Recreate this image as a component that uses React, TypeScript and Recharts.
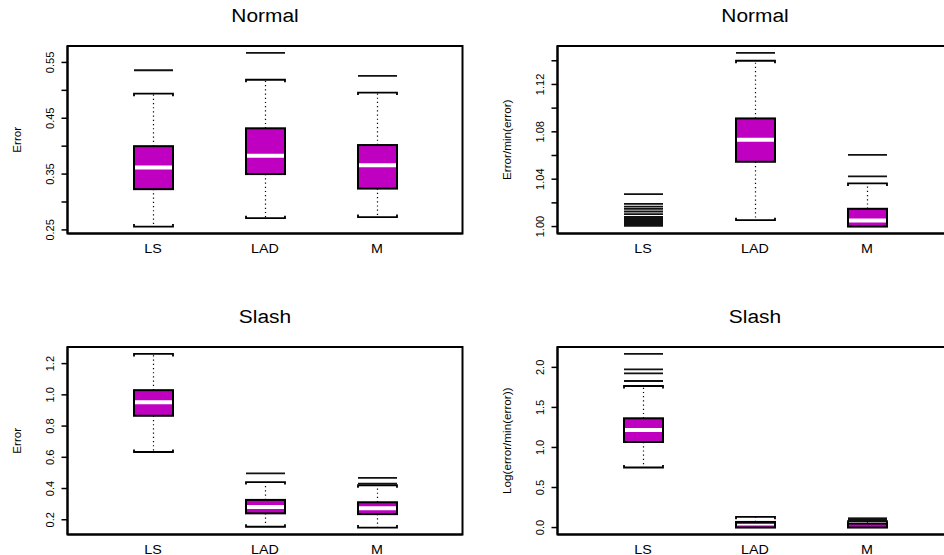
import React from 'react';
import { ComposedChart, Bar, XAxis, YAxis } from 'recharts';

const categories = ['LS', 'LAD', 'M'];

// Normal errors
const normErrLow = [0.256, 0.271, 0.273];
const normErrQ1 = [0.323, 0.35, 0.324];
const normErrMed = [0.362, 0.383, 0.366];
const normErrQ3 = [0.4, 0.432, 0.402];
const normErrHigh = [0.494, 0.519, 0.496];
const normErrOut = [[0.536], [0.567], [0.526]];
const normErrTicks = [0.25, 0.3, 0.35, 0.4, 0.45, 0.5, 0.55];
const normErrLabels = [0.25, 0.35, 0.45, 0.55];

// Normal, error / min(error)
const normRatioLow = [1.0, 1.0054, 1.0];
const normRatioQ1 = [1.0, 1.0547, 1.0];
const normRatioMed = [1.0, 1.0733, 1.0051];
const normRatioQ3 = [1.0, 1.0913, 1.015];
const normRatioHigh = [1.0, 1.14, 1.0364];
const normRatioOut = [
  [1.0274, 1.0192, 1.0169, 1.015, 1.0127, 1.0105, 1.0082, 1.0075, 1.0068, 1.0061, 1.0054, 1.0047, 1.004, 1.0033, 1.0026, 1.0019, 1.0012, 1.0005],
  [1.1466],
  [1.0423, 1.0606],
];
const normRatioTicks = [1.0, 1.02, 1.04, 1.06, 1.08, 1.1, 1.12, 1.14];
const normRatioLabels = [1.0, 1.04, 1.08, 1.12];

// Slash errors
const slashErrLow = [0.634, 0.155, 0.15];
const slashErrQ1 = [0.866, 0.241, 0.236];
const slashErrMed = [0.952, 0.281, 0.274];
const slashErrQ3 = [1.03, 0.327, 0.312];
const slashErrHigh = [1.262, 0.441, 0.421];
const slashErrOut = [[], [0.497], [0.432, 0.468]];
const slashErrTicks = [0.2, 0.4, 0.6, 0.8, 1.0, 1.2];
const slashErrLabels = [0.2, 0.4, 0.6, 0.8, 1.0, 1.2];

// Slash, log(error / min(error))
const slashLogLow = [0.75, 0.0, 0.0];
const slashLogQ1 = [1.068, 0.0, 0.0];
const slashLogMed = [1.218, 0.035, 0.025];
const slashLogQ3 = [1.364, 0.07, 0.05];
const slashLogHigh = [1.767, 0.134, 0.08];
const slashLogOut = [
  [1.83, 1.925, 1.975, 2.1675],
  [],
  [0.085, 0.09, 0.095, 0.1, 0.105, 0.11, 0.115],
];
const slashLogTicks = [0, 0.5, 1.0, 1.5, 2.0];
const slashLogLabels = [0, 0.5, 1.0, 1.5, 2.0];

const FONT = '"Liberation Sans", Arial, Helvetica, sans-serif';
const BOX_FILL = '#C000C0';

const CHART_W = 472;
const CHART_H = 277;
const PLOT_TOP = 46;
const PLOT_LEFT = 67.5;
const RIGHT_GAP = 9.5;
const X_AXIS_H = 30;
const BOTTOM_GAP = 13.5;
const PLOT_W = CHART_W - PLOT_LEFT - RIGHT_GAP;
const PLOT_H = CHART_H - PLOT_TOP - X_AXIS_H - BOTTOM_GAP;

const frameLine = { stroke: '#000', strokeWidth: 2 };

function buildRows(low: number[], q1: number[], med: number[], q3: number[], high: number[], out: number[][]) {
  return categories.map((cat, i) => {
    const all = [low[i], q1[i], med[i], q3[i], high[i], ...out[i]];
    return {
      cat,
      low: low[i],
      q1: q1[i],
      med: med[i],
      q3: q3[i],
      high: high[i],
      out: out[i],
      range: [Math.min(...all), Math.max(...all)],
    };
  });
}

// R style: data range extended by 4% on each side
function paddedDomain(rows: any[]) {
  const lo = Math.min(...rows.map((r) => r.range[0]));
  const hi = Math.max(...rows.map((r) => r.range[1]));
  const pad = (hi - lo) * 0.04;
  return [lo - pad, hi + pad];
}

const BoxShape = (props: any) => {
  const { x, y, width, height, payload } = props;
  const [lo, hi] = payload.range;
  const top = Math.min(y, y + height);
  const bot = Math.max(y, y + height);
  const py = (v: number) => bot - ((v - lo) / (hi - lo)) * (bot - top);
  const cx = x + width / 2;
  const x0 = x;
  const x1 = x + width;
  const yQ1 = py(payload.q1);
  const yQ3 = py(payload.q3);
  const yMed = py(payload.med);
  const yLow = py(payload.low);
  const yHigh = py(payload.high);
  const boxH = yQ1 - yQ3;
  // tiny boxes: the median stripe only fits between the borders
  const medW = Math.min(4, boxH - 4);
  return (
    <g>
      {yHigh < yQ3 - 0.5 && (
        <>
          <line x1={cx} x2={cx} y1={yQ3} y2={yHigh} stroke="#000" strokeWidth={1.2} strokeDasharray="1.2 3" />
          <path d={`M${x0},${yHigh + 2.5} L${x0},${yHigh} L${x1},${yHigh} L${x1},${yHigh + 2.5}`} fill="none" stroke="#000" strokeWidth={1.8} />
        </>
      )}
      {yLow > yQ1 + 0.5 && (
        <>
          <line x1={cx} x2={cx} y1={yQ1} y2={yLow} stroke="#000" strokeWidth={1.2} strokeDasharray="1.2 3" />
          <path d={`M${x0},${yLow - 2.5} L${x0},${yLow} L${x1},${yLow} L${x1},${yLow - 2.5}`} fill="none" stroke="#000" strokeWidth={1.8} />
        </>
      )}
      <rect x={x0} y={yQ3} width={width} height={Math.max(boxH, 0)} fill={BOX_FILL} stroke="#000" strokeWidth={2} />
      {medW > 0 && <line x1={x0 + 1} x2={x1 - 1} y1={yMed} y2={yMed} stroke="#fff" strokeWidth={medW} />}
      {payload.out.map((v: number, i: number) => (
        <line key={i} x1={x0} x2={x1} y1={py(v)} y2={py(v)} stroke="#111" strokeWidth={1.8} />
      ))}
    </g>
  );
};

const CatTick = (props: any) => {
  const { x, y, payload } = props;
  return (
    <text transform={`translate(${x},${y + 19}) scale(1.1,1)`} textAnchor="middle" fontSize={13} fontFamily={FONT} fill="#000">
      {payload.value}
    </text>
  );
};

const makeValueTick = (labelled: number[], decimals: number) => (props: any) => {
  const { x, y, payload } = props;
  const v = payload.value;
  if (!labelled.some((l) => Math.abs(l - v) < 1e-9)) return <g />;
  return (
    <text transform={`translate(${x - 7.5},${y}) rotate(-90)`} textAnchor="middle" fontSize={11} fontFamily={FONT} fill="#000">
      {v.toFixed(decimals)}
    </text>
  );
};

interface PanelProps {
  left: number;
  top: number;
  title: string;
  yLabel: string;
  rows: any[];
  ticks: number[];
  labelled: number[];
  decimals: number;
}

const Panel: React.FC<PanelProps> = ({ left, top, title, yLabel, rows, ticks, labelled, decimals }) => {
  const domain = paddedDomain(rows);
  return (
    <div style={{ position: 'absolute', left, top, width: CHART_W, height: CHART_H }}>
      <ComposedChart
        width={CHART_W}
        height={CHART_H}
        data={rows}
        margin={{ top: PLOT_TOP, right: RIGHT_GAP, bottom: BOTTOM_GAP, left: 0 }}
      >
        <XAxis
          dataKey="cat"
          padding={{ left: 29.5, right: 29.5 }}
          height={X_AXIS_H}
          tickLine={false}
          tickSize={0}
          tickMargin={0}
          interval={0}
          axisLine={frameLine}
          tick={CatTick}
        />
        <YAxis
          type="number"
          domain={domain}
          ticks={ticks}
          interval={0}
          width={PLOT_LEFT}
          tickSize={6}
          tickMargin={0}
          tickLine={{ stroke: '#000', strokeWidth: 1.5 }}
          axisLine={frameLine}
          tick={makeValueTick(labelled, decimals)}
        />
        <Bar dataKey="range" barSize={39} shape={<BoxShape />} isAnimationActive={false} />
      </ComposedChart>
      <svg width={CHART_W} height={CHART_H} style={{ position: 'absolute', left: 0, top: 0, pointerEvents: 'none' }}>
        {/* plot frame */}
        <rect x={PLOT_LEFT} y={PLOT_TOP} width={PLOT_W} height={PLOT_H} fill="none" stroke="#000" strokeWidth={2} />
        <text transform={`translate(${PLOT_LEFT + PLOT_W / 2},21.7) scale(1.1,1)`} textAnchor="middle" fontSize={19} fontFamily={FONT} fill="#000">
          {title}
        </text>
        <text transform={`translate(${PLOT_LEFT - 46.5},${PLOT_TOP + PLOT_H / 2}) rotate(-90)`} textAnchor="middle" fontSize={11.7} fontFamily={FONT} fill="#000">
          {yLabel}
        </text>
      </svg>
    </div>
  );
};

export default function App() {
  const normErrRows = buildRows(normErrLow, normErrQ1, normErrMed, normErrQ3, normErrHigh, normErrOut);
  const normRatioRows = buildRows(normRatioLow, normRatioQ1, normRatioMed, normRatioQ3, normRatioHigh, normRatioOut);
  const slashErrRows = buildRows(slashErrLow, slashErrQ1, slashErrMed, slashErrQ3, slashErrHigh, slashErrOut);
  const slashLogRows = buildRows(slashLogLow, slashLogQ1, slashLogMed, slashLogQ3, slashLogHigh, slashLogOut);

  return (
    <div style={{ position: 'absolute', left: 0, top: 0, width: 944, height: 555, overflow: 'hidden', background: '#fff' }}>
      <Panel left={0} top={0} title="Normal" yLabel="Error" rows={normErrRows} ticks={normErrTicks} labelled={normErrLabels} decimals={2} />
      <Panel left={489.5} top={0} title="Normal" yLabel="Error/min(error)" rows={normRatioRows} ticks={normRatioTicks} labelled={normRatioLabels} decimals={2} />
      <Panel left={0} top={301} title="Slash" yLabel="Error" rows={slashErrRows} ticks={slashErrTicks} labelled={slashErrLabels} decimals={1} />
      <Panel left={489.5} top={301} title="Slash" yLabel="Log(error/min(error))" rows={slashLogRows} ticks={slashLogTicks} labelled={slashLogLabels} decimals={1} />
    </div>
  );
}
